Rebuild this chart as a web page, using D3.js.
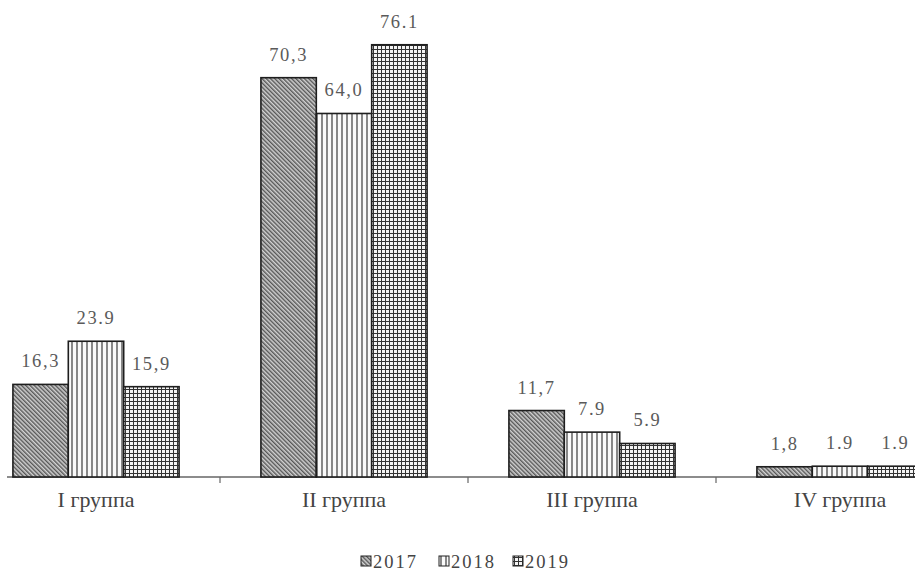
<!DOCTYPE html>
<html>
<head>
<meta charset="utf-8">
<script src="https://cdn.jsdelivr.net/npm/d3@7"></script>
<style>
  html, body { margin: 0; padding: 0; background: #fff; }
  svg { display: block; }
</style>
</head>
<body>
<svg id="chart" width="915" height="572"></svg>
<script>
// Groups and yearly shares
const categories = ["I группа", "II группа", "III группа", "IV группа"];
const years = ["2017", "2018", "2019"];
const values2017 = [16.3, 70.3, 11.7, 1.8];
const values2018 = [23.9, 64.0, 7.9, 1.9];
const values2019 = [15.9, 76.1, 5.9, 1.9];
// Value labels as printed above the bars
const labels2017 = ["16,3", "70,3", "11,7", "1,8"];
const labels2018 = ["23.9", "64,0", "7.9", "1.9"];
const labels2019 = ["15,9", "76.1", "5.9", "1.9"];

const seriesValues = [values2017, values2018, values2019];
const seriesLabels = [labels2017, labels2018, labels2019];

const svg = d3.select("#chart");
const W = 915, H = 572;
const baseY = 477;

// Fill patterns: diagonal hatch, vertical lines, fine grid
const defs = svg.append("defs");
const pDiag = defs.append("pattern")
  .attr("id", "pat2017").attr("patternUnits", "userSpaceOnUse")
  .attr("width", 3).attr("height", 3)
  .attr("patternTransform", "rotate(-45)");
pDiag.append("rect").attr("width", 3).attr("height", 3).attr("fill", "#d2d2d2");
pDiag.append("line").attr("x1", 0.75).attr("y1", 0).attr("x2", 0.75).attr("y2", 3)
  .attr("stroke", "#4a4a4a").attr("stroke-width", 1.3);

const pVert = defs.append("pattern")
  .attr("id", "pat2018").attr("patternUnits", "userSpaceOnUse")
  .attr("width", 5).attr("height", 5);
pVert.append("rect").attr("width", 5).attr("height", 5).attr("fill", "#fafafa");
pVert.append("line").attr("x1", 2).attr("y1", 0).attr("x2", 2).attr("y2", 5)
  .attr("stroke", "#3a3a3a").attr("stroke-width", 1.2);

const pGrid = defs.append("pattern")
  .attr("id", "pat2019").attr("patternUnits", "userSpaceOnUse")
  .attr("width", 4).attr("height", 4);
pGrid.append("rect").attr("width", 4).attr("height", 4).attr("fill", "#f4f4f4");
pGrid.append("line").attr("x1", 1.5).attr("y1", 0).attr("x2", 1.5).attr("y2", 4)
  .attr("stroke", "#333").attr("stroke-width", 1);
pGrid.append("line").attr("x1", 0).attr("y1", 1.5).attr("x2", 4).attr("y2", 1.5)
  .attr("stroke", "#333").attr("stroke-width", 1);

const fills = ["url(#pat2017)", "url(#pat2018)", "url(#pat2019)"];

// Scales
const x0 = d3.scaleBand().domain(categories).range([-28, 964])
  .paddingInner(0.33).paddingOuter(0.165);
const x1 = d3.scaleBand().domain(years).range([0, x0.bandwidth()]);
const y = d3.scaleLinear().domain([0, 80]).range([baseY, baseY - 80 * 5.68]);

// Axis line and category separators
svg.append("line")
  .attr("x1", 7).attr("x2", W).attr("y1", baseY).attr("y2", baseY)
  .attr("stroke", "#666").attr("stroke-width", 1.3);
const gap = x0.step() - x0.bandwidth();
svg.selectAll(".sep").data(categories.slice(0, 3)).join("line")
  .attr("class", "sep")
  .attr("x1", d => x0(d) + x0.bandwidth() + gap / 2)
  .attr("x2", d => x0(d) + x0.bandwidth() + gap / 2)
  .attr("y1", baseY).attr("y2", baseY + 6)
  .attr("stroke", "#666").attr("stroke-width", 1.2);

// Bars and labels
const rows = [];
categories.forEach((c, ci) => {
  years.forEach((yr, si) => {
    rows.push({ c, yr, si, v: seriesValues[si][ci], label: seriesLabels[si][ci] });
  });
});

svg.append("g").selectAll("rect").data(rows).join("rect")
  .attr("x", d => x0(d.c) + x1(d.yr))
  .attr("y", d => y(d.v))
  .attr("width", x1.bandwidth())
  .attr("height", d => baseY - y(d.v))
  .attr("fill", d => fills[d.si])
  .attr("stroke", "#1e1e1e").attr("stroke-width", 1.6);

svg.append("g").selectAll("text").data(rows).join("text")
  .attr("x", d => x0(d.c) + x1(d.yr) + x1.bandwidth() / 2)
  .attr("y", d => y(d.v) - 17)
  .attr("text-anchor", "middle")
  .attr("font-family", "'Liberation Serif', 'DejaVu Serif', serif")
  .attr("font-size", 18.5)
  .attr("letter-spacing", 1.6)
  .attr("fill", "#5a5a5a")
  .text(d => d.label);

// Category labels
svg.append("g").selectAll("text").data(categories).join("text")
  .attr("x", d => x0(d) + x0.bandwidth() / 2)
  .attr("y", 507)
  .attr("text-anchor", "middle")
  .attr("font-family", "'Liberation Serif', 'DejaVu Serif', serif")
  .attr("font-size", 22)
  .attr("fill", "#444")
  .text(d => d);

// Legend
const legendItems = years.map((yr, i) => ({ yr, fill: fills[i] }));
const legendX = [361, 439, 513];
const lg = svg.append("g");
const li = lg.selectAll("g").data(legendItems).join("g")
  .attr("transform", (d, i) => `translate(${legendX[i]},556)`);
li.append("rect").attr("width", 10).attr("height", 10)
  .attr("fill", d => d.fill).attr("stroke", "#222").attr("stroke-width", 1);
li.append("text").attr("x", 12).attr("y", 11.5)
  .attr("font-family", "'Liberation Serif', 'DejaVu Serif', serif")
  .attr("font-size", 18.5).attr("letter-spacing", 2)
  .attr("fill", "#444")
  .text(d => d.yr);
</script>
</body>
</html>
